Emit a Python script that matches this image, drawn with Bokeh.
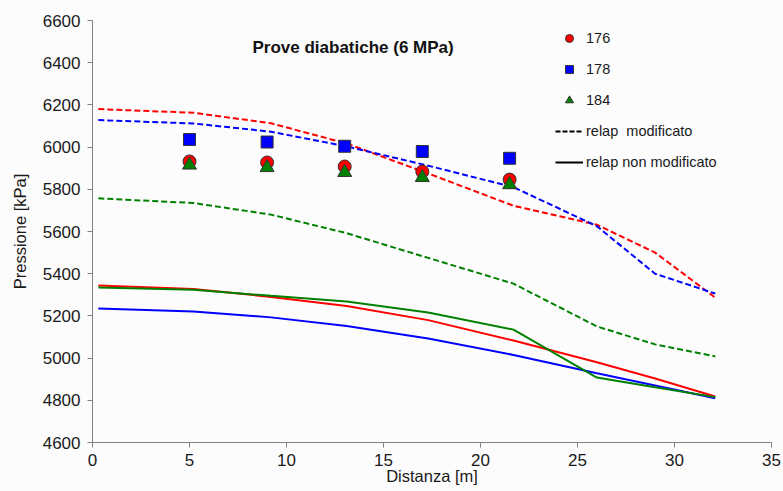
from bokeh.plotting import figure
from bokeh.models import Range1d, FixedTicker, Legend, LegendItem, Label
from bokeh.embed import file_html
from bokeh.resources import INLINE

# measured points (prove 176, 178, 184)
dist_exp = [5, 9, 13, 17, 21.5]
p_176 = [5932, 5927, 5908, 5884, 5846]
p_178 = [6036, 6024, 6004, 5979, 5947]
p_184 = [5915, 5903, 5880, 5856, 5822]

# relap results along the channel
dist_relap = [0.3, 5.2, 9.2, 13.1, 17.3, 21.7, 26.0, 29.0, 32.1]
mod_176 = [6180, 6163, 6113, 6017, 5875, 5722, 5632, 5500, 5287]
mod_178 = [6128, 6112, 6073, 6003, 5912, 5810, 5625, 5400, 5306]
mod_184 = [5757, 5735, 5680, 5592, 5475, 5353, 5150, 5065, 5008]
nonmod_176 = [5344, 5328, 5290, 5247, 5180, 5083, 4980, 4903, 4818]
nonmod_178 = [5235, 5221, 5193, 5152, 5093, 5015, 4928, 4870, 4810]
nonmod_184 = [5335, 5324, 5295, 5268, 5216, 5135, 4908, 4862, 4815]

x_ticks = [0, 5, 10, 15, 20, 25, 30, 35]
y_ticks = [4600, 4800, 5000, 5200, 5400, 5600, 5800, 6000, 6200, 6400, 6600]

RED = "#ff0000"
BLUE = "#0000ff"
GREEN = "#008000"
FONT = "Liberation Sans"
BG = "#fcfcfc"

p = figure(width=783, height=491,
           min_border_left=92, min_border_right=12,
           min_border_top=20, min_border_bottom=49,
           x_range=Range1d(0, 35), y_range=Range1d(4600, 6600),
           output_backend="svg", toolbar_location=None,
           background_fill_color=BG, border_fill_color=BG)

p.outline_line_color = None
p.xgrid.visible = False
p.ygrid.visible = False

# dashed = relap modificato, solid = relap non modificato
p.line(dist_relap, mod_176, line_color=RED, line_width=2, line_dash="6 3")
p.line(dist_relap, mod_178, line_color=BLUE, line_width=2, line_dash="6 3")
p.line(dist_relap, mod_184, line_color=GREEN, line_width=2, line_dash="6 3")
p.line(dist_relap, nonmod_176, line_color=RED, line_width=2)
p.line(dist_relap, nonmod_178, line_color=BLUE, line_width=2)
p.line(dist_relap, nonmod_184, line_color=GREEN, line_width=2)

r176 = p.scatter(dist_exp, p_176, marker="circle", size=13,
                 fill_color=RED, line_color="#333333", line_width=1)
r178 = p.scatter(dist_exp, p_178, marker="square", size=12,
                 fill_color=BLUE, line_color="#333333", line_width=1)
r184 = p.scatter(dist_exp, p_184, marker="triangle", size=14,
                 fill_color=GREEN, line_color="#333333", line_width=1)

# legend-only renderers (no visible points)
nan = float("nan")
leg_dash = p.line([nan], [nan], line_color="black", line_width=2, line_dash="5 2")
leg_solid = p.line([nan], [nan], line_color="black", line_width=2)

for ax in (p.xaxis, p.yaxis):
    ax.axis_line_color = "#808080"
    ax.major_tick_line_color = "#808080"
    ax.major_tick_out = 5
    ax.major_tick_in = 0
    ax.minor_tick_line_color = None
    ax.major_label_text_font = FONT
    ax.major_label_text_font_size = "17px"
    ax.major_label_text_color = "#1a1a1a"
    ax.axis_label_text_font = FONT
    ax.axis_label_text_font_size = "16.5px"
    ax.axis_label_text_font_style = "normal"
    ax.axis_label_text_color = "#1a1a1a"

p.xaxis.ticker = FixedTicker(ticks=x_ticks)
p.yaxis.ticker = FixedTicker(ticks=y_ticks)
p.xaxis.major_label_standoff = 6
p.yaxis.major_label_standoff = 7
p.yaxis.axis_label = "Pressione [kPa]"
p.yaxis.axis_label_standoff = 11
p.xaxis.axis_label = "Distanza [m]"
p.xaxis.axis_label_standoff = -2

legend = Legend(items=[
    LegendItem(label="176", renderers=[r176]),
    LegendItem(label="178", renderers=[r178]),
    LegendItem(label="184", renderers=[r184]),
    LegendItem(label="relap  modificato", renderers=[leg_dash]),
    LegendItem(label="relap non modificato", renderers=[leg_solid]),
], location=(463, 270))
legend.glyph_width = 28
legend.glyph_height = 20
legend.label_height = 20
legend.spacing = 11
legend.padding = 0
legend.margin = 0
legend.label_standoff = 3
legend.border_line_color = None
legend.background_fill_alpha = 0
legend.label_text_font = FONT
legend.label_text_font_size = "14.5px"
legend.label_text_color = "#1a1a1a"
p.add_layout(legend)

title = Label(x=160, y=395, x_units="screen", y_units="screen",
              text="Prove diabatiche (6 MPa)", text_font=FONT,
              text_font_style="bold", text_font_size="17px",
              text_align="left", text_baseline="middle", text_color="#111111")
p.add_layout(title)

open("out.html", "w").write(file_html(p, INLINE))
